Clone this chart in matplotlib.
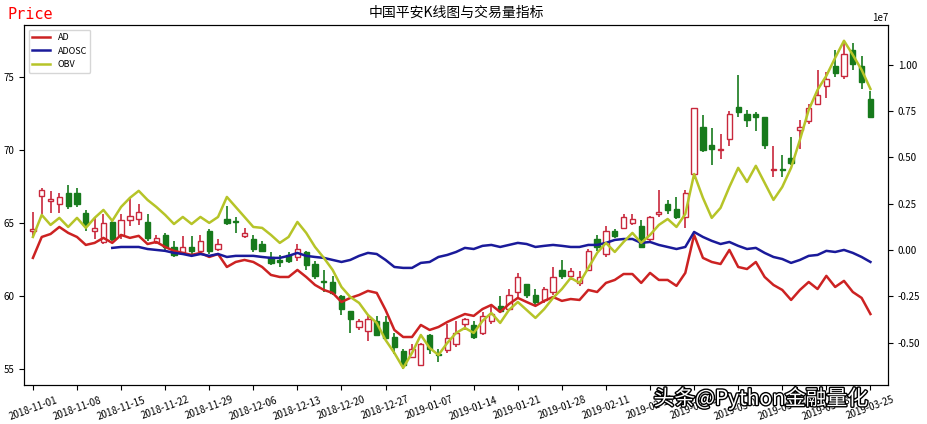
import numpy as np
import matplotlib
matplotlib.use("Agg")
import matplotlib.pyplot as plt
import matplotlib.patheffects as pe
from matplotlib.patches import Rectangle

plt.rcParams['font.family'] = ['Noto Sans CJK SC', 'DejaVu Sans']
plt.rcParams['axes.unicode_minus'] = False

tick_labels = ["2018-11-01", "2018-11-08", "2018-11-15", "2018-11-22", "2018-11-29",
               "2018-12-06", "2018-12-13", "2018-12-20", "2018-12-27", "2019-01-07",
               "2019-01-14", "2019-01-21", "2019-01-28", "2019-02-11", "2019-02-18",
               "2019-02-25", "2019-03-04", "2019-03-11", "2019-03-18", "2019-03-25"]

opens = [64.5, 66.9, 66.55, 66.3, 67.1, 67.1, 65.7, 64.5, 63.7, 65.1,
         64.2, 65.2, 65.3, 65.1, 63.7, 64.2, 63.4, 63.0, 63.4, 63.1,
         64.5, 63.2, 65.3, 65.15, 64.1, 63.9, 63.6, 62.7, 62.45, 62.8,
         62.7, 63.0, 62.2, 61.05, 61.0, 60.0, 59.0, 57.9, 57.6, 58.3,
         58.2, 57.2, 56.2, 55.8, 55.3, 57.3, 56.05, 56.3, 56.7, 58.1,
         58.0, 57.5, 58.3, 59.3, 59.1, 60.3, 60.8, 60.1, 59.7, 60.3,
         61.8, 61.4, 60.9, 61.8, 63.9, 62.9, 64.5, 64.7, 65.0, 64.8,
         63.9, 65.6, 66.3, 66.0, 65.4, 68.4, 71.6, 70.4, 70.0, 70.8,
         73.0, 72.5, 72.5, 72.3, 68.65, 68.75, 69.5, 71.4, 72.0, 73.2,
         74.4, 75.8, 75.1, 76.9, 75.8, 73.5]
closes = [64.6, 67.3, 66.65, 66.8, 66.2, 66.3, 64.9, 64.7, 65.0, 63.9,
          65.2, 65.5, 65.8, 64.0, 64.0, 63.4, 62.8, 63.4, 63.1, 63.8,
          63.1, 63.6, 65.0, 65.05, 64.3, 63.2, 63.1, 62.3, 62.35, 62.4,
          63.2, 62.1, 61.4, 60.95, 60.2, 59.1, 58.4, 58.3, 58.4, 57.3,
          57.1, 56.5, 55.3, 56.4, 56.7, 56.4, 55.95, 57.1, 57.5, 58.4,
          57.2, 58.6, 58.8, 59.0, 60.1, 61.3, 60.1, 59.6, 60.5, 61.3,
          61.4, 61.7, 61.3, 63.1, 63.4, 64.5, 64.1, 65.4, 65.3, 63.4,
          65.4, 65.8, 65.9, 65.4, 67.1, 72.9, 70.0, 70.1, 70.1, 72.5,
          72.6, 72.1, 72.3, 70.4, 68.75, 68.65, 69.1, 71.6, 72.9, 73.8,
          74.9, 75.3, 76.6, 75.9, 74.7, 72.3]
highs = [65.75, 67.4, 67.2, 67.1, 67.6, 67.4, 65.9, 65.4, 65.6, 65.3,
         65.6, 66.7, 66.3, 65.6, 64.2, 64.3, 63.8, 64.1, 64.1, 64.2,
         64.6, 63.9, 66.2, 65.4, 64.7, 64.2, 63.8, 63.0, 62.8, 63.0,
         63.6, 63.1, 62.4, 61.8, 61.4, 60.1, 59.0, 58.4, 58.6, 58.6,
         58.6, 57.5, 56.4, 56.7, 56.8, 57.4, 56.4, 58.1, 58.3, 58.5,
         58.3, 58.9, 59.3, 60.0, 60.5, 61.6, 60.8, 60.5, 60.6, 62.0,
         62.5, 61.9, 61.7, 63.2, 64.2, 64.8, 64.6, 65.6, 65.6, 65.2,
         65.5, 67.3, 66.6, 66.8, 67.3, 72.9, 72.4, 71.5, 71.1, 72.7,
         75.2, 72.8, 72.6, 72.3, 70.3, 69.7, 70.9, 72.1, 73.2, 75.5,
         75.4, 76.9, 77.5, 77.4, 76.5, 74.1]
lows = [64.1, 65.6, 65.7, 65.7, 66.0, 66.1, 64.5, 63.9, 63.6, 63.8,
        63.9, 64.8, 64.9, 63.8, 63.6, 63.0, 62.7, 62.9, 62.9, 62.9,
        62.9, 63.1, 64.9, 64.3, 64.0, 63.0, 63.0, 62.1, 62.0, 62.3,
        62.4, 61.8, 61.2, 60.3, 60.1, 58.7, 57.5, 57.7, 56.9, 57.3,
        57.1, 56.0, 55.0, 55.8, 55.3, 56.0, 55.5, 56.1, 56.5, 57.7,
        57.05, 57.3, 58.1, 58.9, 59.0, 59.8, 59.9, 59.3, 59.5, 60.1,
        61.2, 61.1, 60.7, 61.7, 63.1, 62.7, 64.0, 64.6, 64.9, 63.3,
        63.7, 65.4, 65.6, 65.3, 64.7, 68.0, 69.9, 69.0, 69.4, 70.3,
        72.3, 71.6, 71.3, 70.1, 68.2, 68.2, 69.0, 70.1, 71.8, 73.1,
        73.6, 75.0, 74.9, 75.5, 74.2, 72.2]

# indicator values in units of 1e7
ad = [-0.043, 0.070, 0.086, 0.124, 0.092, 0.070, 0.027, 0.038, 0.065, 0.038,
      0.081, 0.065, 0.076, 0.032, 0.043, 0.016, -0.005, -0.016, -0.027, -0.016,
      -0.038, -0.022, -0.092, -0.065, -0.054, -0.065, -0.092, -0.135, -0.146, -0.146,
      -0.108, -0.146, -0.189, -0.216, -0.232, -0.281, -0.259, -0.243, -0.221, -0.232,
      -0.324, -0.432, -0.470, -0.470, -0.405, -0.432, -0.416, -0.389, -0.367, -0.346,
      -0.356, -0.319, -0.297, -0.335, -0.292, -0.259, -0.281, -0.302, -0.275, -0.254,
      -0.275, -0.265, -0.270, -0.216, -0.227, -0.178, -0.162, -0.130, -0.130, -0.178,
      -0.124, -0.162, -0.162, -0.194, -0.124, 0.081, -0.043, -0.065, -0.076, 0.000,
      -0.092, -0.103, -0.065, -0.146, -0.189, -0.216, -0.270, -0.216, -0.173, -0.211,
      -0.140, -0.200, -0.167, -0.227, -0.259, -0.346]
adosc = [np.nan] * 9 + [
      0.011, 0.016, 0.016, 0.016, 0.005, 0.000, -0.005, -0.016, -0.022, -0.032,
      -0.022, -0.032, -0.022, -0.038, -0.032, -0.032, -0.032, -0.038, -0.043, -0.043,
      -0.032, -0.016, -0.032, -0.038, -0.043, -0.054, -0.065, -0.054, -0.032, -0.016,
      -0.022, -0.054, -0.092, -0.097, -0.097, -0.070, -0.065, -0.038, -0.027, -0.011,
      0.011, 0.005, 0.022, 0.027, 0.016, 0.027, 0.038, 0.032, 0.016, 0.022,
      0.027, 0.022, 0.016, 0.016, 0.027, 0.027, 0.038, 0.054, 0.059, 0.059,
      0.038, 0.043, 0.027, 0.016, 0.005, 0.016, 0.097, 0.070, 0.049, 0.032,
      0.043, 0.022, 0.005, 0.011, -0.016, -0.038, -0.049, -0.070, -0.054, -0.032,
      -0.027, -0.005, -0.011, 0.000, -0.016, -0.038, -0.065]
obv = [0.070, 0.189, 0.135, 0.173, 0.124, 0.173, 0.119, 0.173, 0.216, 0.157,
       0.232, 0.281, 0.319, 0.270, 0.232, 0.189, 0.140, 0.178, 0.140, 0.178,
       0.146, 0.178, 0.286, 0.232, 0.178, 0.124, 0.119, 0.081, 0.038, 0.070,
       0.151, 0.092, 0.016, -0.043, -0.108, -0.200, -0.254, -0.286, -0.351, -0.394,
       -0.486, -0.556, -0.637, -0.556, -0.459, -0.529, -0.567, -0.502, -0.448, -0.421,
       -0.448, -0.383, -0.340, -0.394, -0.324, -0.281, -0.324, -0.367, -0.319, -0.259,
       -0.211, -0.151, -0.178, -0.097, -0.016, 0.038, -0.011, 0.043, 0.092, 0.038,
       0.081, 0.135, 0.167, 0.124, 0.194, 0.410, 0.281, 0.173, 0.227, 0.340,
       0.443, 0.367, 0.454, 0.362, 0.270, 0.340, 0.443, 0.594, 0.756, 0.864,
       0.940, 1.037, 1.129, 1.053, 0.972, 0.869]

RED = '#c8283c'
GREEN = '#177a1c'

fig = plt.figure(figsize=(9.27, 4.24), dpi=100)
ax = fig.add_axes([0.026, 0.092, 0.932, 0.849])
x = np.arange(len(opens))
w = 0.6
for i in x:
    o, c, h, l = opens[i], closes[i], highs[i], lows[i]
    col = RED if c >= o else GREEN
    ax.vlines(i, l, h, color=col, lw=1.2, zorder=2)
    bottom, height = min(o, c), max(abs(c - o), 0.04)
    if c >= o:
        ax.add_patch(Rectangle((i - w / 2, bottom), w, height, facecolor='white',
                               edgecolor=col, lw=1.0, zorder=3))
    else:
        ax.add_patch(Rectangle((i - w / 2, bottom), w, height, facecolor=col,
                               edgecolor=col, lw=1.0, zorder=3))
ax.set_xlim(-1, 97)
ax.set_ylim(53.9, 78.6)
ax.set_yticks([55, 60, 65, 70, 75])
ax.set_xticks(x[::5])
ax.set_xticklabels(tick_labels, rotation=20, fontsize=7)
ax.tick_params(axis='y', labelsize=7)
ax.set_title('中国平安K线图与交易量指标', fontsize=10)
fig.text(0.008, 0.955, 'Price', color='red', fontsize=11, family='DejaVu Sans Mono')

ax2 = ax.twinx()
ax2.plot(x, np.array(ad) * 1e7, color='#cc2222', lw=1.8, label='AD')
ax2.plot(x, np.array(adosc) * 1e7, color='#1a1a9a', lw=1.8, label='ADOSC')
ax2.plot(x, np.array(obv) * 1e7, color='#b6c428', lw=1.8, label='OBV')
ax2.set_ylim(-0.729e7, 1.214e7)
ax2.set_yticks([-0.5e7, -0.25e7, 0, 0.25e7, 0.5e7, 0.75e7, 1.0e7])
ax2.tick_params(axis='y', labelsize=7)
ax2.yaxis.get_offset_text().set_fontsize(7)
ax2.legend(loc='upper left', fontsize=6.5, frameon=True)

fig.text(0.705, 0.045, '头条@Python金融量化', fontsize=15, color='white',
         path_effects=[pe.withStroke(linewidth=2, foreground='black')])

fig.savefig('out.png', dpi=100)
